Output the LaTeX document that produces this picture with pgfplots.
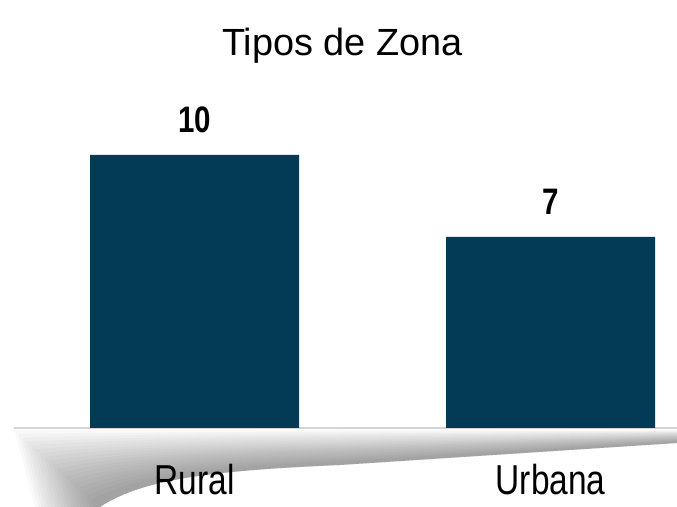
\documentclass[border=0pt]{standalone}
\usepackage{fontspec}
\setmainfont{Liberation Sans}
\newfontfamily\narrowfont[FakeStretch=0.8]{Liberation Sans}
\usepackage{pgfplots}
\pgfplotsset{compat=1.18}
\usetikzlibrary{calc}
\definecolor{barBlue}{HTML}{033A56}
\definecolor{floorLine}{HTML}{D4D4D4}

\begin{document}
\begin{tikzpicture}[x=1bp,y=1bp]
  \useasboundingbox (0,0) rectangle (677,507);
  % shaded floor swoosh under the axis line, built from nested translucent layers
  \foreach \t in {0,0.05,...,0.95} {
    \fill[black, opacity=0.022]
      ($(677,77)!\t!(677,64)$) -- ($(340,77)!\t!(340,42)$)
      .. controls ($(220,77)!\t!(200,36)$) and ($(100,77)!\t!(140,26)$) .. ($(14,77)!\t!(100,0)$)
      -- ($(35,0)!\t!(100,0)$) -- (100,0)
      .. controls (140,26) and (200,36) .. (340,42) -- (677,64) -- cycle;
  }
  \begin{axis}[
    at={(14bp,79bp)}, anchor=south west,
    scale only axis,
    width=663bp, height=327.6bp,
    xmin=-0.507, xmax=1.355,
    ymin=0, ymax=12,
    axis y line=none,
    axis x line*=bottom,
    axis line style={draw=floorLine, line width=1.5bp},
    xtick={0,1}, xticklabels={Rural,Urbana},
    ytick=\empty,
    major tick length=0pt,
    /pgf/number format/assume math mode=true,
    xticklabel style={font=\narrowfont\fontsize{42}{42}\selectfont, anchor=base, yshift=-67bp},
    ybar, bar width=209bp,
    nodes near coords,
    nodes near coords style={font=\narrowfont\bfseries\fontsize{37}{37}\selectfont, anchor=base, yshift=22.5bp},
    clip=false,
  ]
    \addplot[fill=barBlue, draw=none] coordinates {(0,10) (1,7)};
  \end{axis}
  \node[anchor=base, font=\fontsize{38}{38}\selectfont] at (342.5,451) {Tipos de Zona};
\end{tikzpicture}
\end{document}
